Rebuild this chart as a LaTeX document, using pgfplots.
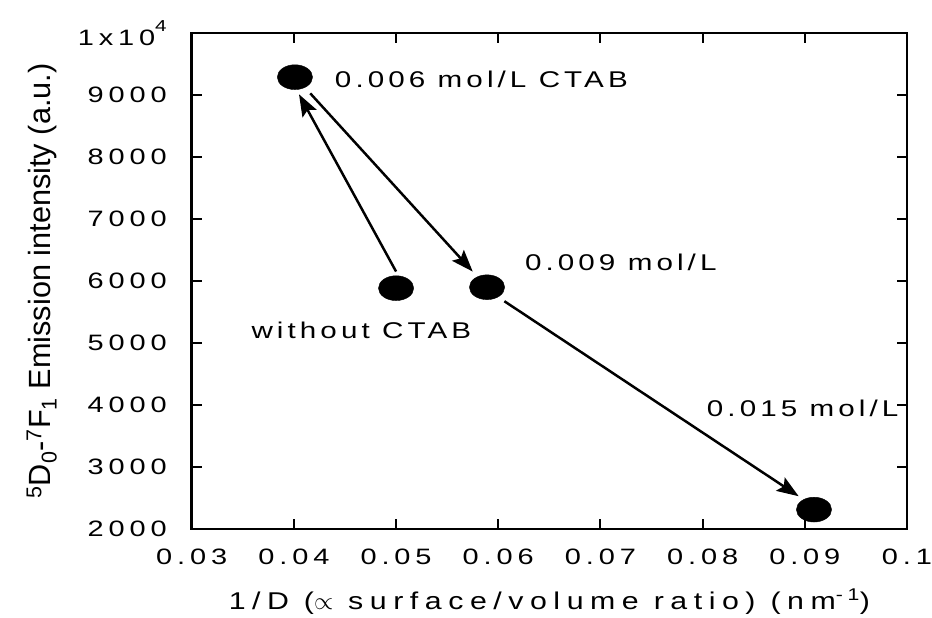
\documentclass[border=0pt]{standalone}
\usepackage{pgfplots}
\pgfplotsset{compat=1.18}
\usepackage{fontspec}
\setmainfont{Liberation Sans}
\newfontfamily\tickfont[FakeStretch=1.3, LetterSpace=22]{Liberation Sans}
\newfontfamily\annfont[FakeStretch=1.3, LetterSpace=18]{Liberation Sans}
\newfontfamily\xlabfont[FakeStretch=1.25, LetterSpace=27]{Liberation Sans}
\usetikzlibrary{arrows.meta}
\begin{document}
\begin{tikzpicture}
\begin{axis}[
 scale only axis, width=720bp, height=499bp,
 xmin=0.03, xmax=0.1, ymin=2000, ymax=10000,
 clip=false,
 xtick={0.03,0.04,0.05,0.06,0.07,0.08,0.09,0.1},
 xticklabels={0.03,0.04,0.05,0.06,0.07,0.08,0.09,0.1},
 ytick={2000,3000,4000,5000,6000,7000,8000,9000,10000},
 yticklabels={2000,3000,4000,5000,6000,7000,8000,9000,{1x10\raisebox{1.2ex}{\fontsize{16}{18}\selectfont 4}}},
 scaled x ticks=false, scaled y ticks=false,
 /pgf/number format/assume math mode=true,
 tick align=inside,
 xticklabel pos=lower, yticklabel pos=left,
 major tick length=10bp,
 axis line style={line width=2.5bp},
 tick style={line width=2bp, black},
 ticklabel style={font=\tickfont\fontsize{22.5}{26}\selectfont, inner sep=0pt},
 yticklabel style={xshift=-25bp},
 xticklabel style={yshift=-20bp},
 xlabel={1/D ($\propto$ surface/volume ratio) (nm\textsuperscript{-1})},
 xlabel style={font=\xlabfont\fontsize{24.5}{28}\selectfont, at={(axis description cs:0.5,0)}, anchor=center, yshift=-73bp},
 ylabel={\textsuperscript{5}D\textsubscript{0}-\textsuperscript{7}F\textsubscript{1} Emission intensity (a.u.)},
 ylabel style={font=\fontsize{31}{34}\selectfont, at={(axis description cs:0,0.5)}, anchor=center, rotate=0, xshift=0bp, yshift=151bp},
]
\addplot[only marks, mark=*, mark size=12.5bp, mark options={xscale=1.42, fill=black, draw=black}]
 coordinates {(0.0401,9290) (0.0500,5885) (0.0589,5900) (0.0909,2311)};
\addplot[line width=2.5bp, -{Stealth[length=22bp, width=16bp, inset=4bp]}]
 coordinates {(0.0500,6153) (0.0405,9013)};
\addplot[line width=2.5bp, -{Stealth[length=22bp, width=16bp, inset=4bp]}]
 coordinates {(0.0416,9029) (0.0575,6153)};
\addplot[line width=2.5bp, -{Stealth[length=22bp, width=16bp, inset=4bp]}]
 coordinates {(0.0606,5674) (0.0894,2527)};
\node[anchor=west, inner sep=0pt, font=\annfont\fontsize{23}{26}\selectfont] at (axis cs:0.0440,9250) {0.006 mol/L CTAB};
\node[anchor=west, inner sep=0pt, font=\annfont\fontsize{23}{26}\selectfont] at (axis cs:0.0626,6300) {0.009 mol/L};
\node[anchor=center, inner sep=0pt, font=\annfont\fontsize{23}{26}\selectfont] at (axis cs:0.0466,5200) {without CTAB};
\node[anchor=west, inner sep=0pt, font=\annfont\fontsize{23}{26}\selectfont] at (axis cs:0.0804,3950) {0.015 mol/L};
\end{axis}
\path ([shift={(-193bp,-86.6bp)}]current axis.south west) rectangle ([shift={(739bp,532.4bp)}]current axis.south west);
\end{tikzpicture}
\end{document}
